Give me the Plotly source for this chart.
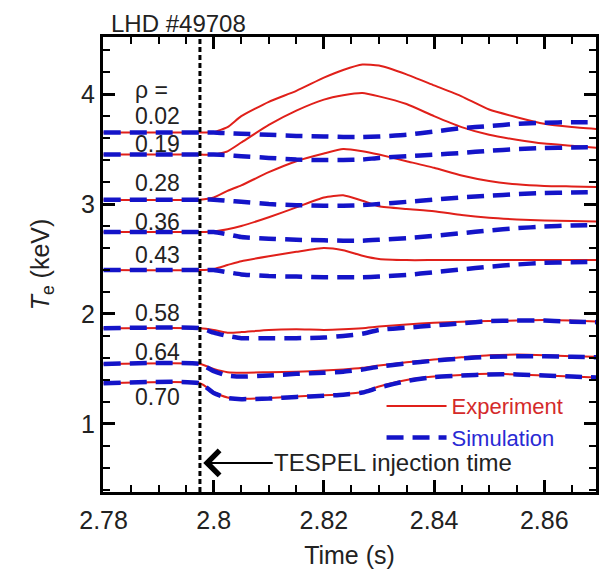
import plotly.graph_objects as go

# ---------------- data ----------------
time_s = [2.78, 2.7975, 2.80, 2.8025, 2.805, 2.81, 2.815, 2.82, 2.8235, 2.827,
          2.83, 2.835, 2.84, 2.845, 2.85, 2.855, 2.86, 2.865, 2.87]

rho_values = ["0.02", "0.19", "0.28", "0.36", "0.43", "0.58", "0.64", "0.70"]

exp_002 = [3.65, 3.65, 3.655, 3.70, 3.80, 3.93, 4.03, 4.15, 4.22, 4.27, 4.26, 4.18, 4.08, 3.98, 3.86, 3.79, 3.73, 3.70, 3.68]
exp_019 = [3.45, 3.45, 3.45, 3.48, 3.56, 3.72, 3.85, 3.95, 3.99, 4.01, 3.98, 3.91, 3.80, 3.70, 3.63, 3.585, 3.55, 3.53, 3.51]
exp_028 = [3.04, 3.04, 3.06, 3.12, 3.17, 3.29, 3.39, 3.46, 3.50, 3.48, 3.45, 3.39, 3.33, 3.26, 3.21, 3.18, 3.165, 3.16, 3.155]
exp_036 = [2.745, 2.745, 2.75, 2.77, 2.80, 2.88, 2.97, 3.06, 3.08, 3.03, 2.98, 2.955, 2.935, 2.90, 2.875, 2.86, 2.85, 2.845, 2.84]
exp_043 = [2.40, 2.40, 2.41, 2.445, 2.48, 2.525, 2.565, 2.60, 2.58, 2.53, 2.50, 2.49, 2.49, 2.49, 2.49, 2.49, 2.49, 2.49, 2.49]
exp_058 = [1.87, 1.87, 1.855, 1.83, 1.835, 1.855, 1.86, 1.855, 1.86, 1.87, 1.885, 1.905, 1.92, 1.93, 1.935, 1.94, 1.945, 1.94, 1.93]
exp_064 = [1.545, 1.545, 1.50, 1.47, 1.465, 1.47, 1.475, 1.485, 1.495, 1.51, 1.53, 1.56, 1.585, 1.605, 1.625, 1.63, 1.625, 1.615, 1.61]
exp_070 = [1.37, 1.37, 1.29, 1.24, 1.23, 1.235, 1.25, 1.26, 1.27, 1.29, 1.34, 1.40, 1.43, 1.445, 1.455, 1.45, 1.44, 1.43, 1.42]

sim_002 = [3.65, 3.65, 3.65, 3.645, 3.64, 3.63, 3.62, 3.615, 3.61, 3.61, 3.615, 3.63, 3.66, 3.69, 3.71, 3.73, 3.74, 3.745, 3.745]
sim_019 = [3.45, 3.45, 3.45, 3.445, 3.435, 3.42, 3.405, 3.40, 3.40, 3.405, 3.42, 3.435, 3.45, 3.465, 3.485, 3.50, 3.51, 3.515, 3.52]
sim_028 = [3.04, 3.04, 3.04, 3.03, 3.02, 3.00, 2.99, 2.985, 2.985, 2.99, 3.00, 3.02, 3.04, 3.06, 3.075, 3.09, 3.10, 3.105, 3.11]
sim_036 = [2.745, 2.745, 2.745, 2.725, 2.70, 2.685, 2.675, 2.67, 2.667, 2.667, 2.675, 2.69, 2.71, 2.735, 2.76, 2.78, 2.795, 2.805, 2.81]
sim_043 = [2.40, 2.40, 2.40, 2.38, 2.36, 2.345, 2.34, 2.335, 2.335, 2.335, 2.34, 2.355, 2.38, 2.405, 2.43, 2.45, 2.465, 2.47, 2.475]
sim_058 = [1.87, 1.87, 1.83, 1.80, 1.78, 1.78, 1.78, 1.785, 1.80, 1.82, 1.855, 1.875, 1.895, 1.915, 1.935, 1.94, 1.94, 1.93, 1.925]
sim_064 = [1.545, 1.545, 1.48, 1.44, 1.43, 1.44, 1.455, 1.465, 1.475, 1.495, 1.52, 1.55, 1.575, 1.595, 1.61, 1.615, 1.615, 1.61, 1.605]
sim_070 = [1.37, 1.37, 1.28, 1.235, 1.225, 1.23, 1.245, 1.255, 1.265, 1.285, 1.33, 1.39, 1.425, 1.44, 1.45, 1.45, 1.44, 1.43, 1.42]

injection_time = 2.7975
shot_label = "LHD #49708"

x_ticks = [2.78, 2.80, 2.82, 2.84, 2.86]
x_tick_text = ["2.78", "2.8", "2.82", "2.84", "2.86"]
y_ticks = [1, 2, 3, 4]

exp_series = [exp_002, exp_019, exp_028, exp_036, exp_043, exp_058, exp_064, exp_070]
sim_series = [sim_002, sim_019, sim_028, sim_036, sim_043, sim_058, sim_064, sim_070]

# ---------------- styling ----------------
FONT = "Liberation Sans, Arial, sans-serif"
TXT = "#222222"
RED = "#e0201a"
BLUE = "#1414c8"

# pixel offsets of the rho labels relative to each curve's starting level
label_shift = [17, 11, 17, 10, 15, 15, 12, -14]

fig = go.Figure()

for i, ys in enumerate(exp_series):
    fig.add_trace(go.Scatter(
        x=time_s, y=ys, mode="lines",
        line=dict(color=RED, width=2, shape="spline", smoothing=0.5),
        name='<span style="color:#d42a2a">Experiment</span>',
        showlegend=(i == 0),
    ))
for i, ys in enumerate(sim_series):
    fig.add_trace(go.Scatter(
        x=time_s, y=ys, mode="lines",
        line=dict(color=BLUE, width=4.5, dash="17px,9px", shape="spline", smoothing=0.5),
        name='<span style="color:#2a2ad4">Simulation</span>',
        showlegend=(i == 0),
    ))

# vertical injection line
fig.add_vline(x=injection_time, line=dict(color="black", width=3, dash="5px,3px"))

# rho labels
fig.add_annotation(x=2.7853, y=exp_002[0], yshift=43, text="ρ =", showarrow=False,
                   xanchor="left", yanchor="middle", font=dict(size=23, color=TXT, family=FONT))
for lab, ys, sh in zip(rho_values, exp_series, label_shift):
    fig.add_annotation(x=2.7853, y=ys[0], yshift=sh, text=lab, showarrow=False,
                       xanchor="left", yanchor="middle",
                       font=dict(size=23, color=TXT, family=FONT))

# TESPEL arrow annotation
fig.add_annotation(x=injection_time + 0.0006, y=0.645, text="TESPEL injection time",
                   showarrow=True, ax=190, ay=0, arrowhead=4, arrowsize=2.4,
                   arrowwidth=2, arrowcolor="black",
                   font=dict(size=24, color=TXT, family=FONT))

# shot label
fig.add_annotation(xref="paper", yref="paper", x=0.012, y=1.03, text=shot_label,
                   showarrow=False, xanchor="left", yanchor="middle",
                   font=dict(size=24, color=TXT, family=FONT))

axis_common = dict(
    showline=True, linecolor="black", linewidth=3, mirror="allticks",
    ticks="inside", tickcolor="black", tickwidth=2.5, ticklen=12,
    showgrid=False, zeroline=False,
    tickfont=dict(size=25, color=TXT, family=FONT),
)

fig.update_xaxes(
    range=[2.7799, 2.8694], tickvals=x_ticks, ticktext=x_tick_text,
    ticklabelstandoff=4,
    minor=dict(dtick=0.005, tick0=2.78, ticks="inside", ticklen=7, tickwidth=2, tickcolor="black"),
    title=dict(text="Time (s)", font=dict(size=25, color=TXT, family=FONT), standoff=14),
    **axis_common,
)
fig.update_yaxes(
    range=[0.38, 4.52], tickvals=y_ticks,
    minor=dict(dtick=0.2, tick0=0, ticks="inside", ticklen=7, tickwidth=2, tickcolor="black"),
    title=dict(text="<i>T</i><sub>e</sub> (keV)", font=dict(size=25, color=TXT, family=FONT), standoff=25),
    **axis_common,
)

fig.update_layout(
    width=605, height=573,
    margin=dict(l=103, r=6, t=37, b=81),
    paper_bgcolor="white", plot_bgcolor="white",
    font=dict(family=FONT, color=TXT),
    legend=dict(x=0.565, y=0.235, xanchor="left", yanchor="top",
                bgcolor="rgba(0,0,0,0)", font=dict(size=22, family=FONT),
                itemwidth=60, tracegroupgap=0),
)

fig.write_html("out.html", config={"displayModeBar": False},
               post_script="document.body.style.margin='0px';")
